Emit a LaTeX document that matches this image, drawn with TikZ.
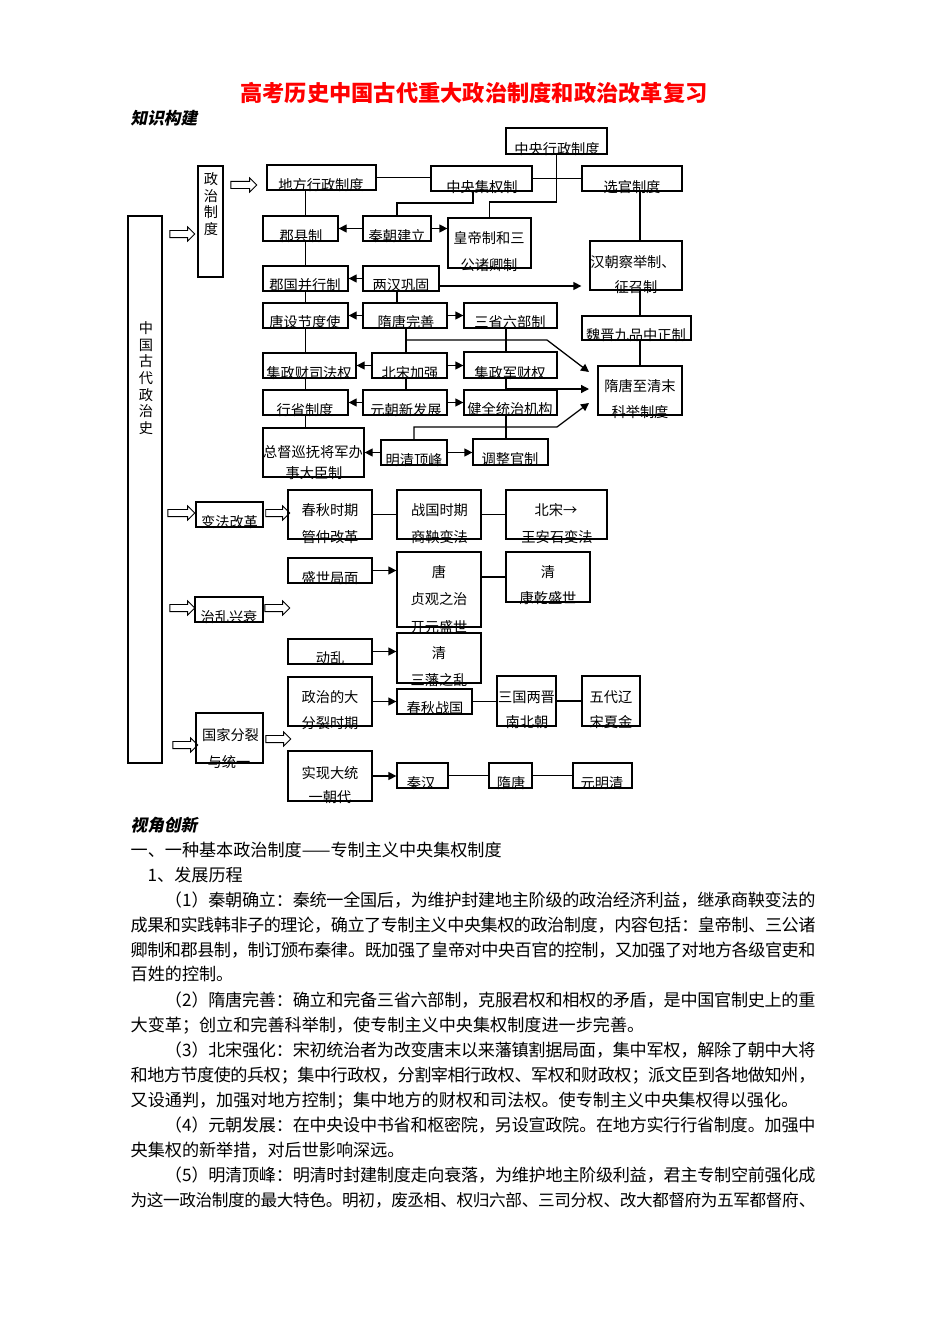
\documentclass[tikz,border=0pt]{standalone}
\usepackage{fontspec}
\setmainfont{Noto Sans CJK SC}
\newfontfamily\headfont{Noto Sans CJK SC}[FakeSlant=0.2]
\usetikzlibrary{arrows.meta,fit,shapes.arrows}
\XeTeXlinebreaklocale "zh"
\XeTeXlinebreakskip=0pt plus 1.5pt minus 1pt
\newcommand\bx[5]{\node[box,fit={(#2,#3) (#4,#5)}] (#1) {};}
\newcommand\tx[4]{\node[txt] (#1) at (#2,#3) {#4};}
\tikzset{
 box/.style={draw, line width=0.8pt, inner sep=0pt},
 txt/.style={inner sep=0pt, font=\fontsize{8.9}{10}\selectfont, text height=7.83pt, text depth=1.07pt},
 vtxt/.style={inner sep=0pt, align=center, font=\fontsize{8.9}{10.44}\selectfont},
 arr/.style={-{Triangle[length=5pt,width=5pt]}},
 hollow/.style={draw, single arrow, line width=0.6pt, inner xsep=0pt, inner ysep=1.9pt, text height=0pt, text depth=0pt, single arrow head extend=2.2pt},
 body/.style={anchor=north west, inner sep=0pt, text width=428pt, align=justify, font=\fontsize{10.7}{15.58}\selectfont},
 bline/.style={anchor=west, inner sep=0pt, font=\fontsize{10.7}{15.58}\selectfont, text height=9.42pt, text depth=1.28pt},
 headline/.style={anchor=west, inner sep=0pt, font=\headfont\fontsize{10.4}{12}\selectfont\bfseries},
}
\begin{document}
\begin{tikzpicture}[x=0.625pt, y=-0.625pt, line width=0.8pt]
\useasboundingbox (0,0) rectangle (950,1344);
% titles
\node[inner sep=0pt, font=\fontsize{13.9}{16}\selectfont\bfseries, text=red] (title) at (474,93) {高考历史中国古代重大政治制度和政治改革复习};
\node[headline] (zsgj) at (130,118) {知识构建};
% boxes top
\bx{L}{128}{216}{162}{763}
\bx{zzzd}{198}{166}{223}{277}
\bx{dfxz}{267}{165}{376}{190}
\bx{zyjq}{431}{166}{532}{191}
\bx{zyxz}{506}{128}{607}{154}
\bx{xgzd}{582}{166}{682}{191}
\bx{jxz}{263}{216}{338}{241}
\bx{qcjl}{363}{216}{431}{241}
\bx{hdz}{448}{218}{531}{268}
\bx{jgbx}{263}{266}{348}{291}
\bx{lhgg}{363}{266}{439}{291}
\bx{hcjj}{590}{241}{682}{290}
\bx{tsjd}{263}{303}{348}{328}
\bx{stws}{363}{303}{447}{328}
\bx{sslb}{464}{303}{557}{328}
\bx{wjjp}{582}{316}{691}{340}
\bx{kj}{598}{366}{682}{415}
\bx{jzcs}{263}{353}{356}{378}
\bx{bsjq}{372}{353}{447}{378}
\bx{jzjc}{464}{352}{557}{378}
\bx{xszd}{263}{390}{348}{415}
\bx{yc}{363}{390}{447}{415}
\bx{jqtz}{464}{390}{557}{415}
\bx{zdxf}{263}{428}{364}{477}
\bx{mqdf}{381}{440}{447}{465}
\bx{tzgz}{473}{439}{548}{465}
% boxes lower
\bx{bfgg}{196}{502}{263}{527}
\bx{cq}{288}{490}{372}{539}
\bx{zg}{397}{490}{481}{539}
\bx{bs}{506}{490}{607}{539}
\bx{ssjm}{288}{558}{372}{583}
\bx{tang}{397}{552}{481}{627}
\bx{qinga}{506}{552}{590}{602}
\bx{zlxs}{195}{597}{263}{622}
\bx{dl}{288}{639}{372}{664}
\bx{qingb}{397}{633}{481}{683}
\bx{zzdf}{288}{677}{372}{726}
\bx{cqzg}{397}{689}{472}{714}
\bx{sg}{497}{676}{556}{726}
\bx{wd}{582}{676}{640}{726}
\bx{gjfl}{196}{713}{263}{763}
\bx{sxdt}{288}{751}{372}{801}
\bx{qh}{397}{763}{448}{788}
\bx{sut}{489}{763}{532}{788}
\bx{ymq}{573}{763}{632}{788}
% vertical texts
\node[vtxt] (tL) at (146,378) {中\\国\\古\\代\\政\\治\\史};
\node[vtxt] (tz) at (211,204) {政\\治\\制\\度};
% texts top
\tx{t1}{321}{185}{地方行政制度}
\tx{t2}{482}{187}{中央集权制}
\tx{t3}{557}{149}{中央行政制度}
\tx{t4}{632}{187}{选官制度}
\tx{t5}{301}{236}{郡县制}
\tx{t6}{397}{236}{秦朝建立}
\tx{t7}{489}{238}{皇帝制和三}
\tx{t8}{489}{265}{公诸卿制}
\tx{t9}{305}{285}{郡国并行制}
\tx{t10}{401}{285}{两汉巩固}
\tx{t11}{633}{262}{汉朝察举制、}
\tx{t12}{636}{287}{征召制}
\tx{t13}{305}{322}{唐设节度使}
\tx{t14}{406}{322}{隋唐完善}
\tx{t15}{510}{322}{三省六部制}
\tx{t16}{636}{335}{魏晋九品中正制}
\tx{t17}{640}{386}{隋唐至清末}
\tx{t18}{640}{412}{科举制度}
\tx{t19}{309}{373}{集政财司法权}
\tx{t20}{410}{373}{北宋加强}
\tx{t21}{510}{373}{集政军财权}
\tx{t22}{305}{410}{行省制度}
\tx{t23}{406}{410}{元朝新发展}
\tx{t24}{510}{409}{健全统治机构}
\tx{t25}{313}{452}{总督巡抚将军办}
\tx{t26}{314}{473}{事大臣制}
\tx{t27}{414}{460}{明清顶峰}
\tx{t28}{510}{459}{调整官制}
% texts lower
\tx{u1}{229.5}{522}{变法改革}
\tx{u2}{330}{510}{春秋时期}
\tx{u3}{330}{537}{管仲改革}
\tx{u4}{439.5}{510}{战国时期}
\tx{u5}{439.5}{537}{商鞅变法}
\tx{u6}{556}{510}{北宋→}
\tx{u7}{557}{537}{王安石变法}
\tx{u8}{330}{578}{盛世局面}
\tx{u9}{439}{572}{唐}
\tx{u10}{439}{599}{贞观之治}
\tx{u11}{439}{627}{开元盛世}
\tx{u12}{548}{572}{清}
\tx{u13}{548}{598}{康乾盛世}
\tx{u14}{229}{617}{治乱兴衰}
\tx{u15}{330}{658}{动乱}
\tx{u16}{439}{653}{清}
\tx{u17}{439}{680}{三藩之乱}
\tx{u18}{330}{697}{政治的大}
\tx{u19}{330}{723}{分裂时期}
\tx{u20}{435}{708}{春秋战国}
\tx{u21}{526.5}{697}{三国两晋}
\tx{u22}{527}{722}{南北朝}
\tx{u23}{611}{697}{五代辽}
\tx{u24}{611}{722}{宋夏金}
\tx{u25}{230.5}{735}{国家分裂}
\tx{u26}{229}{762}{与统一}
\tx{u27}{330}{773}{实现大统}
\tx{u28}{330}{797}{一朝代}
\tx{u29}{421}{783}{秦汉}
\tx{u30}{511}{783}{隋唐}
\tx{u31}{602}{783}{元明清}
% hollow arrows
\node[hollow, minimum height=15.6pt] (ha1) at (180.5,234) {};
\node[hollow, minimum height=16.2pt] (ha2) at (242,185) {};
\node[hollow, minimum height=16.8pt] (ha3) at (179.5,513) {};
\node[hollow, minimum height=15pt] (ha4) at (276,513) {};
\node[hollow, minimum height=15.6pt] (ha5) at (180.5,608) {};
\node[hollow, minimum height=15.6pt] (ha6) at (275.5,608) {};
\node[hollow, minimum height=15.6pt] (ha7) at (183.5,745) {};
\node[hollow, minimum height=15.6pt] (ha8) at (276.5,739) {};
% connectors top
\coordinate (k1) at (589,372);
\coordinate (k2) at (589,389);
\coordinate (k3) at (589,403);
\draw (dfxz.east) -- (dfxz.east -| zyjq.west);
\draw (zyjq.east) -- (zyjq.east -| xgzd.west);
\draw (zyxz.south) |- (hdz.north |- 0,202) -- (hdz.north);
\draw (zyjq.south -| 473,0) |- (qcjl.north |- 0,203) -- (qcjl.north);
\foreach \a/\b in {dfxz/jxz, jxz/jgbx, jgbx/tsjd, tsjd/jzcs, jzcs/xszd, xszd/zdxf}
  \draw (\a.south -| jgbx.center) -- (\b.north -| jgbx.center);
\draw[arr] (qcjl.west) -- (qcjl.west -| jxz.east);
\draw[arr] (qcjl.east) -- (qcjl.east -| hdz.west);
\draw[arr] (lhgg.west) -- (lhgg.west -| jgbx.east);
\draw[arr, shorten >=5pt] (lhgg.east |- 0,286) -- (hcjj.west |- 0,286);
\draw (lhgg.south -| 397,0) -- (stws.north -| 397,0);
\draw[arr] (stws.west) -- (stws.west -| tsjd.east);
\draw[arr] (stws.east) -- (stws.east -| sslb.west);
\draw (stws.south -| 406,0) -- (bsjq.north -| 406,0);
\draw[arr] (stws.south -| 406,0) |- (547,340) -- (k1);
\draw (sslb.south -| 506,0) -- (jzjc.north -| 506,0);
\draw[arr] (bsjq.west) -- (bsjq.west -| jzcs.east);
\draw[arr] (bsjq.east) -- (bsjq.east -| jzjc.west);
\draw (bsjq.south -| 406,0) -- (yc.north -| 406,0);
\draw[arr] (jzjc.south -| 506,0) |- (k2);
\draw[arr] (yc.west) -- (yc.west -| xszd.east);
\draw[arr] (yc.east) -- (yc.east -| jqtz.west);
\draw (jqtz.south -| 506,0) -- (tzgz.north -| 506,0);
\draw[arr] (mqdf.north) |- (557,427) -- (k3);
\draw[arr] (mqdf.west) -- (mqdf.west -| zdxf.east);
\draw[arr] (mqdf.east) -- (mqdf.east -| tzgz.west);
\draw (xgzd.south -| kj.north) -- (hcjj.north -| kj.north);
\draw (hcjj.south -| kj.north) -- (wjjp.north -| kj.north);
\draw (wjjp.south -| kj.north) -- (kj.north);
% connectors lower
\draw (cq.east) -- (cq.east -| zg.west);
\draw (zg.east) -- (zg.east -| bs.west);
\draw[arr] (ssjm.east) -- (ssjm.east -| tang.west);
\draw (qinga.west -| tang.east) -- (qinga.west);
\draw[arr] (dl.east) -- (dl.east -| qingb.west);
\draw[arr] (zzdf.east) -- (zzdf.east -| cqzg.west);
\draw (cqzg.east) -- (cqzg.east -| sg.west);
\draw (sg.east) -- (sg.east -| wd.west);
\draw[arr] (sxdt.east) -- (sxdt.east -| qh.west);
\draw (qh.east) -- (qh.east -| sut.west);
\draw (sut.east) -- (sut.east -| ymq.west);
% body text
\node[headline] (sjcx) at (130,825) {视角创新};
\node[bline] (p0) at (130,850) {一、一种基本政治制度——专制主义中央集权制度};
\node[bline] (p1) at (147,875) {1、发展历程};
\node[body] (p2) at (130,889.5) {\hspace*{2em}\rule{0pt}{10pt}（1）秦朝确立：秦统一全国后，为维护封建地主阶级的政治经济利益，继承商鞅变法的\linebreak 成果和实践韩非子的理论，确立了专制主义中央集权的政治制度，内容包括：皇帝制、三公诸\linebreak 卿制和郡县制，制订颁布秦律。既加强了皇帝对中央百官的控制，又加强了对地方各级官吏和\linebreak 百姓的控制。};
\node[body] (p3) at (130,989.5) {\hspace*{2em}\rule{0pt}{10pt}（2）隋唐完善：确立和完备三省六部制，克服君权和相权的矛盾，是中国官制史上的重\linebreak 大变革；创立和完善科举制，使专制主义中央集权制度进一步完善。};
\node[body] (p4) at (130,1039.5) {\hspace*{2em}\rule{0pt}{10pt}（3）北宋强化：宋初统治者为改变唐末以来藩镇割据局面，集中军权，解除了朝中大将\linebreak 和地方节度使的兵权；集中行政权，分割宰相行政权、军权和财政权；派文臣到各地做知州，\linebreak 又设通判，加强对地方控制；集中地方的财权和司法权。使专制主义中央集权得以强化。};
\node[body] (p5) at (130,1114.5) {\hspace*{2em}\rule{0pt}{10pt}（4）元朝发展：在中央设中书省和枢密院，另设宣政院。在地方实行行省制度。加强中\linebreak 央集权的新举措，对后世影响深远。};
\node[body] (p6) at (130,1164.5) {\parfillskip=0pt\hspace*{2em}\rule{0pt}{10pt}（5）明清顶峰：明清时封建制度走向衰落，为维护地主阶级利益，君主专制空前强化成\linebreak {\fontsize{10.4}{15.58}\selectfont 为这一政治制度的最大特色。明初，废丞相、权归六部、三司分权、改大都督府为五军都督府、}};
\end{tikzpicture}
\end{document}
